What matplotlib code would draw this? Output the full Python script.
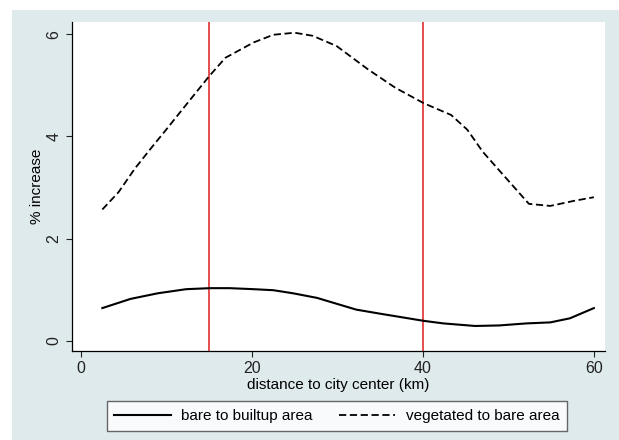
import numpy as np
import matplotlib.pyplot as plt
from matplotlib.patches import Rectangle

# -------------------------------
# DATA
# -------------------------------

veg_x = [2.5, 4.4, 6.3, 8.1, 10.0, 12.3, 15.0, 16.9, 20.2, 22.5, 25.0, 27.1,
         29.9, 33.6, 36.8, 40.1, 43.3, 45.2, 47.0, 49.8, 52.4, 54.9, 57.7, 60.0]
veg_y = [2.57, 2.91, 3.37, 3.75, 4.14, 4.62, 5.18, 5.54, 5.84, 5.99, 6.03, 5.97,
         5.77, 5.31, 4.95, 4.65, 4.42, 4.13, 3.70, 3.17, 2.68, 2.64, 2.74, 2.81]

bare_x = [2.5, 5.8, 9.0, 12.3, 15.1, 17.4, 20.2, 22.5, 24.8, 27.6, 30.4, 32.2,
          35.0, 40.1, 42.4, 46.1, 48.9, 52.1, 54.9, 57.2, 60.0]
bare_y = [0.64, 0.82, 0.93, 1.01, 1.03, 1.03, 1.01, 0.99, 0.93, 0.84, 0.70, 0.61,
          0.53, 0.39, 0.34, 0.29, 0.30, 0.34, 0.36, 0.44, 0.64]

cutoffs = [15, 40]
x_ticks = [0, 20, 40, 60]
y_ticks = [0, 2, 4, 6]

# -------------------------------
# PLOT
# -------------------------------

plt.rcParams['font.family'] = ['Liberation Sans', 'DejaVu Sans']
bg = '#dfeaed'

fig = plt.figure(figsize=(6.19, 4.40), dpi=100)
fig.patch.set_facecolor('white')
fig.patches.append(Rectangle((12 / 619, 0), 1, 1 - 10 / 440,
                             transform=fig.transFigure, facecolor=bg,
                             edgecolor='none', zorder=-10))

ax = fig.add_axes([72 / 619, 1 - 351 / 440, (605 - 72) / 619, (351 - 22) / 440])
ax.set_facecolor('white')

for c in cutoffs:
    ax.axvline(c, color='#e03030', lw=1.2, zorder=1)

ax.plot(bare_x, bare_y, color='black', lw=1.5, label='bare to builtup area', zorder=3)
ax.plot(veg_x, veg_y, color='black', lw=1.3, ls=(0, (4, 2)),
        label='vegetated to bare area', zorder=3)

ax.set_xlim(-1.05, 61.3)
ax.set_ylim(-0.2, 6.24)
ax.set_xticks(x_ticks)
ax.set_yticks(y_ticks)
ax.tick_params(direction='out', length=4, width=0.8, labelsize=11.5, colors='#222222')
ax.set_yticklabels([str(t) for t in y_ticks], rotation=90, va='center')

for s in ['top', 'right']:
    ax.spines[s].set_visible(False)
for s in ['left', 'bottom']:
    ax.spines[s].set_linewidth(0.9)

ax.set_xlabel('distance to city center (km)', fontsize=11, labelpad=1)
ax.set_ylabel('% increase', fontsize=11, labelpad=2)

leg = fig.legend(loc='center', bbox_to_anchor=(337 / 619, 1 - 416 / 440), ncol=2,
                 fontsize=11, frameon=True, fancybox=False, edgecolor='#444444',
                 handlelength=3.7, handletextpad=0.7, columnspacing=1.7,
                 borderpad=0.5)
leg.get_frame().set_linewidth(1.0)

plt.savefig('out.png', dpi=100, facecolor=fig.get_facecolor())
